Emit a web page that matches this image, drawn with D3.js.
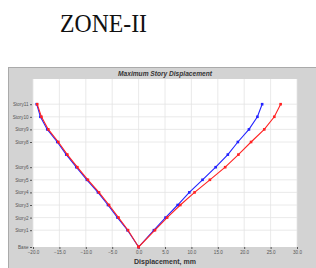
<!DOCTYPE html>
<html><head><meta charset="utf-8">
<script src="https://cdn.jsdelivr.net/npm/d3@7"></script>
<style>body{margin:0;background:#fff}svg{display:block}</style>
</head><body>
<script>
const stories = ["Base","Story1","Story2","Story3","Story4","Story5","Story6","Story7","Story8","Story9","Story10","Story11"];
const elevations = [0,4,7,10,13,16,19,22,25,28,31,34];
const tickStories = ["Base","Story1","Story2","Story3","Story4","Story5","Story6","Story8","Story9","Story10","Story11"];
const xTicks = [-20,-15,-10,-5,0,5,10,15,20,25,30];
const blueLeft  = [0,-2.1,-4.0,-5.8,-7.7,-9.8,-11.8,-13.7,-15.4,-17.3,-18.6,-19.3];
const redLeft   = [0,-2.0,-3.8,-5.6,-7.5,-9.6,-11.6,-13.5,-15.2,-17.1,-18.4,-19.2];
const blueRight = [0,2.9,5.1,7.4,9.6,12.1,14.6,16.9,18.8,20.9,22.5,23.4];
const redRight  = [0,3.1,5.4,7.9,10.6,13.5,16.4,18.9,21.3,23.8,25.7,26.9];

const W=316,H=268;
const svg=d3.select("body").append("svg").attr("width",W).attr("height",H);

svg.append("text").attr("x",60).attr("y",32).attr("font-family","Liberation Serif, serif")
  .attr("font-size",26).attr("textLength",87).attr("lengthAdjust","spacingAndGlyphs").attr("fill","#111").text("ZONE-II");

// panel
svg.append("rect").attr("x",8).attr("y",67).attr("width",W-8).attr("height",H-67).attr("fill","#d3d3d3");
svg.append("line").attr("x1",8.5).attr("x2",8.5).attr("y1",67).attr("y2",H).attr("stroke","#aaa");
svg.append("line").attr("x1",8).attr("x2",W).attr("y1",67.5).attr("y2",67.5).attr("stroke","#aaa");

const x=d3.scaleLinear().domain([-20,30]).range([33,297]);
const y=d3.scaleLinear().domain([0,40]).range([247,79]);

svg.append("rect").attr("x",33).attr("y",79).attr("width",297-33).attr("height",247-79).attr("fill","#fff");

svg.append("text").attr("x",165).attr("y",75.5).attr("text-anchor","middle")
  .attr("font-family","Liberation Sans, Arial, sans-serif").attr("font-size",6.6).attr("font-weight","bold")
  .attr("font-style","italic").attr("fill","#333").text("Maximum Story Displacement");

const elevOf = s => elevations[stories.indexOf(s)];
// grid
svg.append("g").selectAll("line").data(xTicks).join("line")
  .attr("x1",d=>x(d)).attr("x2",d=>x(d)).attr("y1",79).attr("y2",247).attr("stroke","#e4e4e4").attr("stroke-width",0.8);
svg.append("g").selectAll("line").data(tickStories.slice(1)).join("line")
  .attr("x1",33).attr("x2",297).attr("y1",d=>y(elevOf(d))).attr("y2",d=>y(elevOf(d))).attr("stroke","#e4e4e4").attr("stroke-width",0.8);

// axes
const xa=svg.append("g").attr("transform","translate(0,247)")
  .call(d3.axisBottom(x).tickValues(xTicks).tickFormat(d3.format(".1f")).tickSize(2).tickPadding(1.5));
xa.select(".domain").remove();
xa.selectAll("line").attr("stroke","#555");
xa.selectAll("text").attr("font-size",4.6).attr("fill","#555").attr("font-family","Liberation Sans, Arial, sans-serif");

const ya=svg.append("g").attr("transform","translate(32,0)")
  .call(d3.axisLeft(y).tickValues(tickStories.map(elevOf)).tickFormat(d=>stories[elevations.indexOf(d)]).tickSize(2).tickPadding(1.5));
ya.select(".domain").remove();
ya.selectAll("line").attr("stroke","#555");
ya.selectAll("text").attr("font-size",4.6).attr("fill","#555").attr("font-family","Liberation Sans, Arial, sans-serif");

svg.append("text").attr("x",165).attr("y",264).attr("text-anchor","middle")
  .attr("font-family","Liberation Sans, Arial, sans-serif").attr("font-size",7).attr("font-weight","bold")
  .attr("fill","#333").text("Displacement, mm");

function series(vals,color){
  const pts=vals.map((v,i)=>[v,elevations[i]]);
  svg.append("path").datum(pts).attr("fill","none").attr("stroke",color).attr("stroke-width",1.1)
    .attr("d",d3.line().x(d=>x(d[0])).y(d=>y(d[1])));
  svg.append("g").selectAll("rect").data(pts).join("rect")
    .attr("x",d=>x(d[0])-1.3).attr("y",d=>y(d[1])-1.3).attr("width",2.6).attr("height",2.6).attr("fill",color);
}
series(blueLeft,"#2222ff");
series(blueRight,"#2222ff");
series(redLeft,"#ff2222");
series(redRight,"#ff2222");
</script>
</body></html>
